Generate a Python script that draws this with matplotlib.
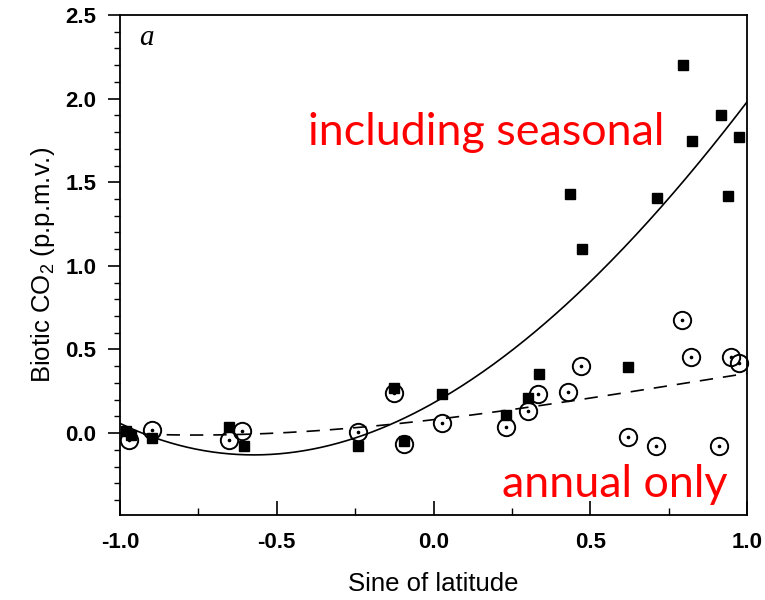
import numpy as np
import matplotlib
matplotlib.use("Agg")
import matplotlib.pyplot as plt
from matplotlib.ticker import MultipleLocator

plt.rcParams["axes.unicode_minus"] = False
plt.rcParams["mathtext.fontset"] = "custom"
plt.rcParams["mathtext.rm"] = "Liberation Sans"

# sine of latitude for each station, and the biotic CO2 signal there
sin_lat_seasonal = [-0.98, -0.966, -0.897, -0.653, -0.605, -0.241, -0.127, -0.095,
                    0.028, 0.23, 0.30, 0.335, 0.435, 0.473, 0.62, 0.713,
                    0.797, 0.824, 0.917, 0.94, 0.975]
co2_seasonal = [0.01, -0.01, -0.03, 0.034, -0.08, -0.078, 0.27, -0.046,
                0.233, 0.108, 0.208, 0.353, 1.43, 1.10, 0.397, 1.405,
                2.20, 1.745, 1.90, 1.42, 1.77]

sin_lat_annual = [-0.97, -0.897, -0.653, -0.61, -0.241, -0.127, -0.095, 0.028,
                  0.23, 0.30, 0.333, 0.428, 0.47, 0.62, 0.709, 0.793,
                  0.82, 0.912, 0.95, 0.974]
co2_annual = [-0.04, 0.02, -0.04, 0.01, 0.008, 0.24, -0.066, 0.058,
              0.038, 0.134, 0.234, 0.244, 0.403, -0.026, -0.076, 0.677,
              0.457, -0.076, 0.457, 0.417]

# cubic fits (highest power first)
fit_seasonal = [-0.092, 0.839, 1.053, 0.18]
fit_annual = [-0.041, 0.0985, 0.2195, 0.08]

fig = plt.figure(figsize=(7.65, 6.0), dpi=100)
ax = fig.add_axes([120 / 765, 1 - 515 / 600, 627 / 765, 500 / 600])

xx = np.linspace(-1, 1, 300)
ax.plot(xx, np.polyval(fit_seasonal, xx), color="black", lw=1.2)
ax.plot(xx, np.polyval(fit_annual, xx), color="black", lw=1.2,
        dashes=(8, 6))

ax.plot(sin_lat_annual, co2_annual, "o", ms=12.5, mfc="none", mec="black",
        mew=1.4, clip_on=False)
ax.plot(sin_lat_annual, co2_annual, "o", ms=1.6, color="black")
ax.plot(sin_lat_seasonal, co2_seasonal, "s", ms=7, color="black")

ax.set_xlim(-1, 1)
ax.set_ylim(-0.49, 2.5)
ax.xaxis.set_major_locator(MultipleLocator(0.5))
ax.xaxis.set_minor_locator(MultipleLocator(0.25))
ax.yaxis.set_major_locator(MultipleLocator(0.5))
ax.yaxis.set_minor_locator(MultipleLocator(0.1))
ax.set_yticks([0.0, 0.5, 1.0, 1.5, 2.0, 2.5])

ax.tick_params(axis="x", which="major", direction="in", length=10, width=1.2,
               pad=12, labelsize=16)
ax.tick_params(axis="x", which="minor", direction="in", length=5, width=1.0)
ax.tick_params(axis="y", which="major", direction="out", length=9, width=1.2,
               pad=8, labelsize=16)
ax.tick_params(axis="y", which="minor", direction="out", length=4.5, width=1.0)
for lab in ax.get_xticklabels() + ax.get_yticklabels():
    lab.set_fontweight("bold")
    lab.set_fontfamily("Liberation Sans")

for side in ["left", "bottom", "top", "right"]:
    ax.spines[side].set_linewidth(1.3)

ax.set_xlabel("Sine of latitude", fontsize=18.5, family="Liberation Sans",
              labelpad=14)
ax.set_ylabel("Biotic CO$_2$ (p.p.m.v.)", fontsize=18.5,
              family="Liberation Sans", labelpad=6)

ax.text(-0.94, 2.32, "a", fontsize=21, family="Liberation Serif",
        style="italic", ha="left", va="baseline")

ax.text(-0.399, 1.725, "including seasonal", color="#ff0000", fontsize=32.3,
        family="Lato", ha="left", va="baseline")
ax.text(0.22, -0.383, "annual only", color="#ff0000", fontsize=32.3,
        family="Lato", ha="left", va="baseline")

fig.savefig("out.png", dpi=100)
